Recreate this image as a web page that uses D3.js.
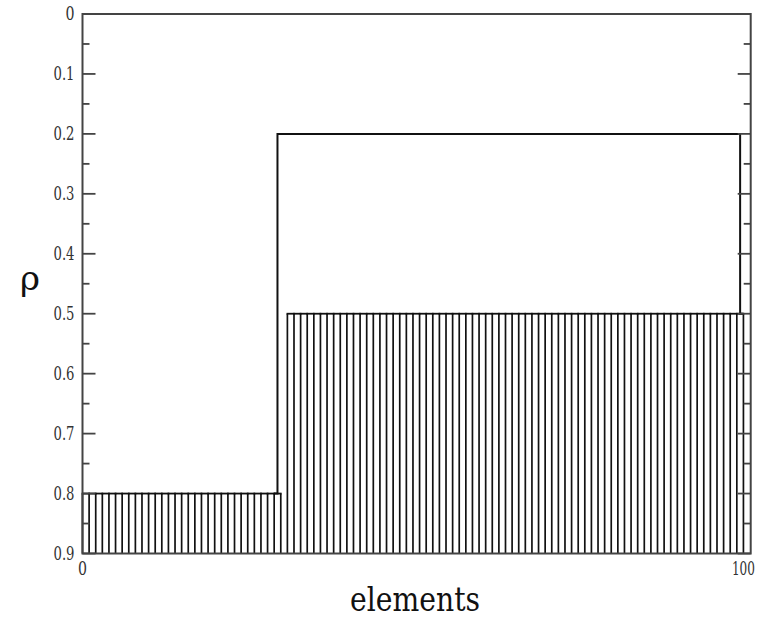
<!DOCTYPE html>
<html>
<head>
<meta charset="utf-8">
<script src="https://cdn.jsdelivr.net/npm/d3@7/dist/d3.min.js"></script>
<style>
  html, body { margin: 0; padding: 0; background: #fff; }
  svg { display: block; }
</style>
</head>
<body>
<svg id="chart" width="760" height="618"></svg>
<script>
// ---- data ----
const elements = d3.range(0, 101);                       // element index 0..100
const stepIndex = 31;                                    // first element at the upper level
const densityLower = elements.map(i => (i < stepIndex ? 0.8 : 0.5));   // hatched series
const outlineX = [29, 30, 99, 100];
const outlineY = [0.8, 0.2, 0.2, 0.5];                   // outlined series (centred steps)
const yTicks = [0, 0.1, 0.2, 0.3, 0.4, 0.5, 0.6, 0.7, 0.8, 0.9];
const yMinor = [0.05, 0.15, 0.25, 0.35, 0.45, 0.55, 0.65, 0.75, 0.85];
const xTickLabels = [0, 100];
const xLabel = "elements";
const yLabel = "ρ";

// ---- layout ----
const svg = d3.select("#chart");
const L = 82.5, R = 750.7, T = 14, B = 553.5;
const x = d3.scaleLinear().domain([0, 101.1]).range([L, R]);
const y = d3.scaleLinear().domain([0, 0.9]).range([T, B]);
const FONT = "DejaVu Serif";

// hatch drop lines
svg.append("g").selectAll("line").data(elements).join("line")
  .attr("x1", d => x(d)).attr("x2", d => x(d))
  .attr("y1", d => y(densityLower[d])).attr("y2", y(0.9))
  .attr("stroke", "#111").attr("stroke-width", 1.7);

// top segments of the hatched series (only between equal neighbours)
const segs = [];
for (let i = 0; i < elements.length - 1; i++) {
  if (densityLower[i] === densityLower[i + 1]) segs.push(i);
}
svg.append("g").selectAll("line").data(segs).join("line")
  .attr("x1", i => x(elements[i]) - 0.85).attr("x2", i => x(elements[i + 1]) + 0.85)
  .attr("y1", i => y(densityLower[i])).attr("y2", i => y(densityLower[i + 1]))
  .attr("stroke", "#111").attr("stroke-width", 1.8);

// outlined series as centred step
const outlinePts = outlineX.map((v, i) => [v, outlineY[i]]);
svg.append("path")
  .attr("d", d3.line().x(d => x(d[0])).y(d => y(d[1])).curve(d3.curveStep)(outlinePts))
  .attr("fill", "none").attr("stroke", "#111").attr("stroke-width", 2);

// frame
svg.append("rect").attr("x", L).attr("y", T).attr("width", R - L).attr("height", B - T)
  .attr("fill", "none").attr("stroke", "#444").attr("stroke-width", 2);

// y ticks (inward on both sides)
const tk = svg.append("g").attr("stroke", "#444").attr("stroke-width", 1.8);
yTicks.forEach(v => {
  tk.append("line").attr("x1", L).attr("x2", L + 13).attr("y1", y(v)).attr("y2", y(v));
  tk.append("line").attr("x1", R).attr("x2", R - 13).attr("y1", y(v)).attr("y2", y(v));
});
yMinor.forEach(v => {
  tk.append("line").attr("x1", L).attr("x2", L + 7).attr("y1", y(v)).attr("y2", y(v));
  tk.append("line").attr("x1", R).attr("x2", R - 7).attr("y1", y(v)).attr("y2", y(v));
});

// y tick labels (narrow Times-like look)
svg.append("g").selectAll("text").data(yTicks).join("text")
  .attr("x", L - 8).attr("y", d => y(d)).attr("dy", "0.36em")
  .attr("text-anchor", "end").attr("font-size", 18).attr("font-family", FONT)
  .attr("fill", "#333")
  .attr("textLength", d => d === 0 ? 9 : 21).attr("lengthAdjust", "spacingAndGlyphs")
  .text(d => d === 0 ? "0" : d3.format(".1f")(d));

// x tick labels
svg.append("g").selectAll("text").data(xTickLabels).join("text")
  .attr("x", d => x(d)).attr("y", 575).attr("font-family", FONT)
  .attr("text-anchor", "middle").attr("font-size", 18)
  .attr("textLength", d => d === 0 ? 9 : 23).attr("lengthAdjust", "spacingAndGlyphs")
  .attr("fill", "#333").text(d => d);

// axis titles
svg.append("text").attr("x", 415).attr("y", 611).attr("text-anchor", "middle")
  .attr("font-family", FONT).attr("textLength", 130).attr("lengthAdjust", "spacingAndGlyphs")
  .attr("font-size", 33).attr("fill", "#111").text(xLabel);
svg.append("text").attr("x", 30).attr("y", 290).attr("text-anchor", "middle")
  .attr("font-family", FONT)
  .attr("font-size", 34).attr("fill", "#111").text(yLabel);
</script>
</body>
</html>
